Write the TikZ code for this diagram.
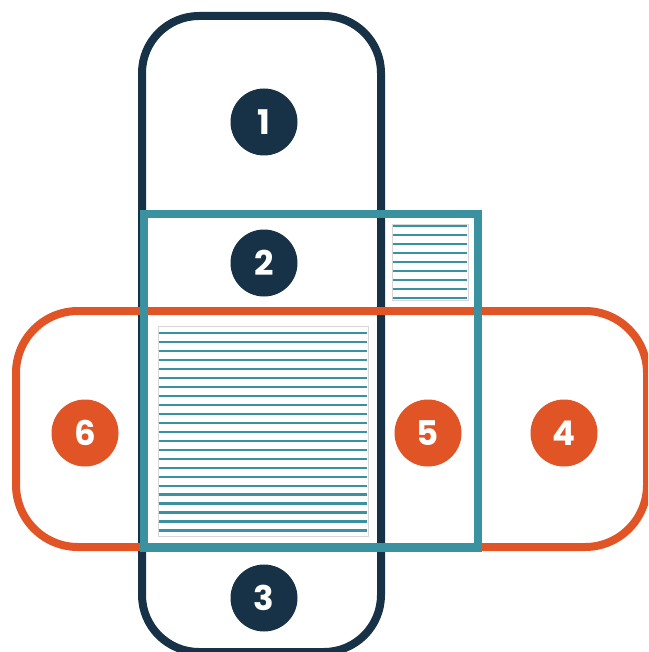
\documentclass[tikz,border=0pt]{standalone}
\usepackage{fontspec}
\setmainfont{Poppins}
\definecolor{navy}{RGB}{23,50,70}
\definecolor{teal}{RGB}{58,145,160}
\definecolor{orng}{RGB}{224,84,38}
\definecolor{lgrey}{RGB}{215,215,215}
\begin{document}
\begin{tikzpicture}[x=1pt,y=-1pt,
  frame/.style={line width=8pt},
  num/.style={circle,minimum size=67pt,inner sep=0pt,text=white,font=\fontsize{34}{34}\selectfont\bfseries},
  hatchbox/.style={draw=lgrey,line width=0.8pt,fill=white},
  hline/.style={teal,line width=2.2pt}]
\useasboundingbox (0,0) rectangle (648,652);
\clip (0,0) rectangle (648,652);
\fill[white] (0,0) rectangle (648,652);
% navy frame
\draw[frame,navy,rounded corners=57pt] (142,16) rectangle (381,652);
% orange frame
\draw[frame,orng,rounded corners=62pt] (16,311) rectangle (647,547);
% teal frame
\draw[frame,teal] (144,214) rectangle (478,548);
% hatched boxes
\draw[hatchbox] (392,224) rectangle (468,300);
\foreach \i in {0,...,8} {\draw[hline] (393,{225.7+9*\i}) -- (467,{225.7+9*\i});}
\draw[hatchbox] (158,326) rectangle (368,536);
\foreach \i in {0,...,22} {\draw[hline] (159,{333.3+8.96*\i}) -- (367,{333.3+8.96*\i});}
% numbered circles
\node[num,fill=navy] (n1) at (264,122) {1};
\node[num,fill=navy] (n2) at (264,263) {2};
\node[num,fill=navy] (n3) at (264,598) {3};
\node[num,fill=orng] (n4) at (564,433) {4};
\node[num,fill=orng] (n5) at (428,433) {5};
\node[num,fill=orng] (n6) at (85,433) {6};
\end{tikzpicture}
\end{document}
